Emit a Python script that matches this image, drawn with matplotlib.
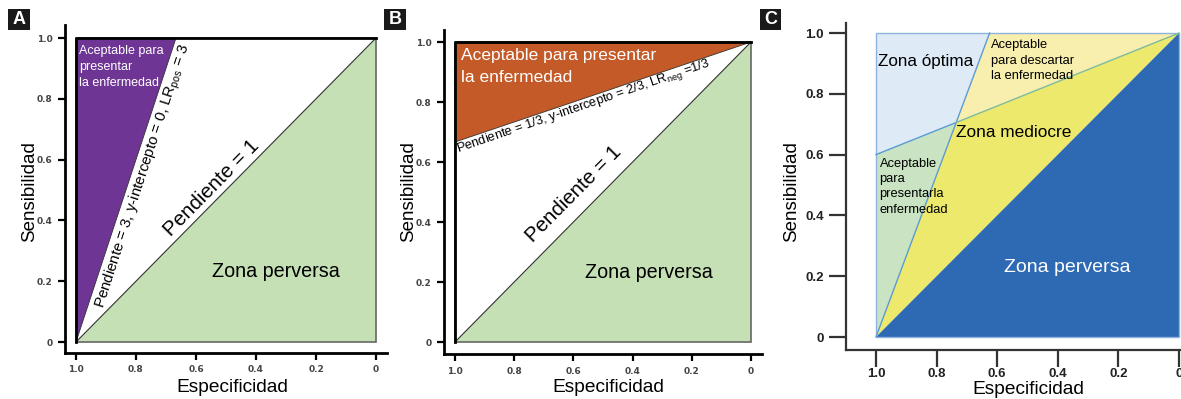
import numpy as np
import matplotlib
matplotlib.use("Agg")
import matplotlib.pyplot as plt
from matplotlib.patches import Polygon, Rectangle

plt.rcParams["font.family"] = ["Liberation Sans", "DejaVu Sans"]
plt.rcParams["mathtext.default"] = "regular"

W, H = 1181, 399
fig = plt.figure(figsize=(W / 100, H / 100), dpi=100)

# ---- data ----
tick_vals = [1.0, 0.8, 0.6, 0.4, 0.2, 0.0]
tick_labels = ["1.0", "0.8", "0.6", "0.4", "0.2", "0"]
ytick_vals = [0.0, 0.2, 0.4, 0.6, 0.8, 1.0]
ytick_labels = ["0", "0.2", "0.4", "0.6", "0.8", "1.0"]

# Panel A: LR+ = 3 line through origin (sens = 3 * (1 - spec))
slope_a = 3.0
intercept_a = 0.0
# Panel B: LR- = 1/3 line (sens = 2/3 + 1/3 * (1 - spec))
slope_b = 1.0 / 3.0
intercept_b = 2.0 / 3.0
# Panel C: two boundary lines (in 1 - spec units)
c_line1_top = 0.375          # where the steep line reaches sens = 1
c_line2_start = 0.6          # sens at 1 - spec = 0
c_cross = (0.263, 0.705)     # crossing of the two lines (1 - spec, sens)

purple = "#6E3594"
orange = "#C45A27"
green = "#C5E0B4"
c_blue = "#2E69B3"
c_yellow = "#EDE96C"
c_lyellow = "#F8EEAE"
c_lblue = "#DEEAF6"
c_lgreen = "#C9E3C3"
c_line = "#5B9BD5"


def fx(px):
    return px / W


def fy(py):
    return 1 - py / H


def make_axes(left, right, top, bottom, x_one, x_zero, y_one, y_zero):
    ax = fig.add_axes([fx(left), fy(bottom), fx(right) - fx(left), fy(top) - fy(bottom)])
    ux = (x_zero - x_one)
    uy = (y_zero - y_one)
    ax.set_xlim(1 + (x_one - left) / ux, -(right - x_zero) / ux)
    ax.set_ylim(-(bottom - y_zero) / uy, 1 + (y_one - top) / uy)
    for s in ("top", "right"):
        ax.spines[s].set_visible(False)
    ax.set_facecolor("none")
    return ax


def poly(ax, pts, color, **kw):
    ax.add_patch(Polygon(pts, closed=True, facecolor=color, edgecolor="none", **kw))


def spec(u):
    return 1 - u


# ================= Panel A =================
axA = make_axes(65, 387, 25, 353, 76, 376, 38, 342)
u_top = (1 - intercept_a) / slope_a
poly(axA, [(1, 0), (1, 1), (spec(u_top), 1)], purple)
poly(axA, [(1, 0), (0, 0), (0, 1)], green)
axA.plot([1, 0], [0, 1], color="#333333", lw=0.8)
axA.plot([1, spec(u_top)], [0, 1], color="#333333", lw=0.6)
axA.add_patch(Rectangle((0, 0), 1, 1, fill=False, edgecolor="#666666", lw=1.2))
axA.plot([1, 1, 0], [0, 1, 1], color="black", lw=2.0, solid_capstyle="projecting")

axA.text(0.99, 0.977, "Aceptable para\npresentar\nla enfermedad", color="white",
         fontsize=9, ha="left", va="top", linespacing=1.45)
axA.text(0.775, 0.545, r"Pendiente = 3, y-intercepto = 0, LR$_{pos}$ = 3",
         fontsize=10.8, rotation=72.0, ha="center", va="center", rotation_mode="anchor")
axA.text(0.547, 0.507, "Pendiente = 1", fontsize=14.8, rotation=45.4,
         ha="center", va="center", rotation_mode="anchor")
axA.text(0.333, 0.233, "Zona perversa", fontsize=14.2, ha="center", va="center")

# ================= Panel B =================
axB = make_axes(444, 762, 30, 354, 455, 751, 42, 342)
poly(axB, [(1, intercept_b), (1, 1), (0, 1)], orange)
poly(axB, [(1, 0), (0, 0), (0, 1)], green)
axB.plot([1, 0], [0, 1], color="#333333", lw=0.8)
axB.plot([1, 0], [intercept_b, intercept_b + slope_b], color="#333333", lw=0.6)
axB.add_patch(Rectangle((0, 0), 1, 1, fill=False, edgecolor="#666666", lw=1.2))
axB.plot([1, 1, 0], [0, 1, 1], color="black", lw=2.0, solid_capstyle="projecting")

axB.text(0.98, 0.98, "Aceptable para presentar\nla enfermedad", color="white",
         fontsize=12.5, ha="left", va="top", linespacing=1.6)
axB.text(0.566, 0.785, r"Pendiente = 1/3, y-intercepto = 2/3, LR$_{neg}$ =1/3",
         fontsize=9.3, rotation=18.9, ha="center", va="center", rotation_mode="anchor")
axB.text(0.598, 0.493, "Pendiente = 1", fontsize=14.8, rotation=45.3,
         ha="center", va="center", rotation_mode="anchor")
axB.text(0.345, 0.233, "Zona perversa", fontsize=14.2, ha="center", va="center")

for ax in (axA, axB):
    ax.set_xticks(tick_vals)
    ax.set_xticklabels(tick_labels)
    ax.set_yticks(ytick_vals)
    ax.set_yticklabels(ytick_labels)
    for s in ("left", "bottom"):
        ax.spines[s].set_linewidth(2.0)
        ax.spines[s].set_color("black")
    ax.tick_params(direction="out", length=5, width=1.6, color="black",
                   labelsize=6.5, labelcolor="#444444", pad=4)
    for lab in ax.get_xticklabels() + ax.get_yticklabels():
        lab.set_fontfamily("DejaVu Sans")
        lab.set_fontweight("bold")

# ================= Panel C =================
axC = make_axes(846, 1184, 23, 350, 876, 1179, 33, 337)
cu, cs = c_cross
poly(axC, [(1, c_line2_start), (1, 1), (spec(c_line1_top), 1), (spec(cu), cs)], c_lblue)
poly(axC, [(spec(c_line1_top), 1), (0, 1), (spec(cu), cs)], c_lyellow)
poly(axC, [(1, 0), (1, c_line2_start), (spec(cu), cs)], c_lgreen)
poly(axC, [(1, 0), (spec(cu), cs), (0, 1)], c_yellow)
poly(axC, [(1, 0), (0, 0), (0, 1)], c_blue)
axC.plot([1, spec(c_line1_top)], [0, 1], color=c_line, lw=1.0)
axC.plot([1, spec(cu)], [c_line2_start, cs], color=c_line, lw=1.0)
axC.plot([spec(cu), 0], [cs, 1], color="#7DBBA0", lw=1.0)
axC.add_patch(Rectangle((0, 0), 1, 1, fill=False, edgecolor="#8EB4DE", lw=1.0))

axC.text(0.995, 0.905, "Zona óptima", fontsize=12.3, ha="left", va="center")
axC.text(0.62, 0.98, "Aceptable\npara descartar\nla enfermedad", fontsize=9.3,
         ha="left", va="top", linespacing=1.38)
axC.text(0.735, 0.672, "Zona mediocre", fontsize=12.4, ha="left", va="center")
axC.text(0.988, 0.59, "Aceptable\npara\npresentarla\nenfermedad", fontsize=9.3,
         ha="left", va="top", linespacing=1.38)
axC.text(0.37, 0.227, "Zona perversa", fontsize=14, color="white", ha="center", va="center")

axC.set_xticks(tick_vals)
axC.set_xticklabels(tick_labels)
axC.set_yticks(ytick_vals)
axC.set_yticklabels(ytick_labels)
for s in ("left", "bottom"):
    axC.spines[s].set_linewidth(1.6)
    axC.spines[s].set_color("#333333")
axC.tick_params(direction="out", length=12, width=1.6, color="#333333",
                labelsize=9.5, labelcolor="#222222")
axC.tick_params(axis="x", pad=1)
axC.tick_params(axis="y", pad=4)
for lab in axC.get_xticklabels() + axC.get_yticklabels():
    lab.set_fontweight("bold")

# ---- axis titles ----
for cx, cy in ((30, 192), (409, 192), (792, 192)):
    fig.text(fx(cx), fy(cy), "Sensibilidad", rotation=90, fontsize=13.5,
             ha="center", va="center")
for cx, cy in ((232, 387), (608, 387), (1028, 389)):
    fig.text(fx(cx), fy(cy), "Especificidad", fontsize=13.8, ha="center", va="center")

# ---- panel letters ----
for letter, x0, x1 in (("A", 8, 30), ("B", 384, 406), ("C", 760, 781)):
    y0, y1 = 9, 30
    fig.patches.append(Rectangle((fx(x0), fy(y1)), fx(x1) - fx(x0), fy(y0) - fy(y1),
                                 transform=fig.transFigure, facecolor="#1a1a1a",
                                 edgecolor="none"))
    fig.text(fx((x0 + x1) / 2), fy((y0 + y1) / 2 + 0.5), letter, color="white",
             fontsize=13, fontweight="bold", ha="center", va="center")

fig.savefig("out.png", dpi=100)
